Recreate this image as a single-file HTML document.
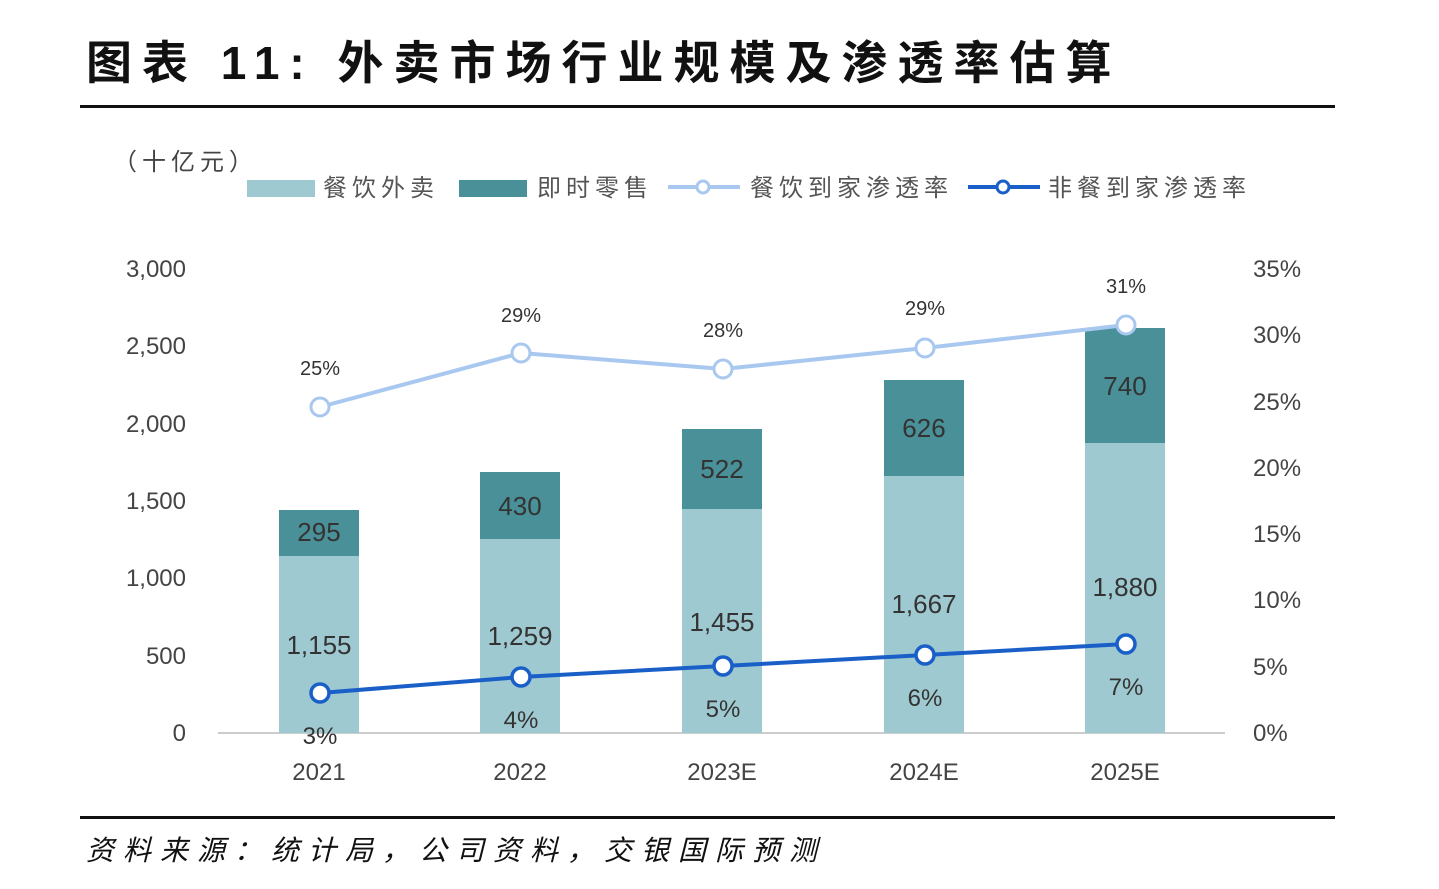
<!DOCTYPE html>
<html><head><meta charset="utf-8"><style>
html,body{margin:0;padding:0;background:#fff;}
svg{display:block;}
text{font-family:"Liberation Sans","Noto Sans CJK SC",sans-serif;}
</style></head><body>
<svg width="1439" height="889" viewBox="0 0 1439 889" xmlns="http://www.w3.org/2000/svg">
<text x="86" y="79" font-size="46" font-weight="bold" fill="#111" letter-spacing="10">图表 11: 外卖市场行业规模及渗透率估算</text>
<rect x="80" y="105" width="1255" height="3" fill="#111"/>
<rect x="80" y="816" width="1255" height="3" fill="#111"/>
<text x="86" y="860" font-size="28" font-style="italic" fill="#111" letter-spacing="9" font-family="'Noto Serif CJK SC',serif">资料来源：统计局，公司资料，交银国际预测</text>

<text x="113" y="170" font-size="24" fill="#444" letter-spacing="5">（十亿元）</text>
<rect x="247" y="180" width="68" height="17" fill="#9fc9d0"/>
<text x="323" y="196" font-size="24" fill="#555" letter-spacing="5">餐饮外卖</text>
<rect x="459" y="180" width="68" height="17" fill="#4a9099"/>
<text x="537" y="196" font-size="24" fill="#555" letter-spacing="5">即时零售</text>
<line x1="668" y1="187" x2="740" y2="187" stroke="#a9c8f0" stroke-width="4"/>
<circle cx="703" cy="187" r="6" fill="#fff" stroke="#a9c8f0" stroke-width="3"/>
<text x="750" y="196" font-size="24" fill="#555" letter-spacing="5">餐饮到家渗透率</text>
<line x1="968" y1="187" x2="1040" y2="187" stroke="#1a5fc8" stroke-width="4"/>
<circle cx="1003" cy="187" r="6" fill="#fff" stroke="#1a5fc8" stroke-width="3"/>
<text x="1048" y="196" font-size="24" fill="#555" letter-spacing="5">非餐到家渗透率</text>

<g font-size="24" fill="#444" text-anchor="end">
<text x="186" y="741">0</text>
<text x="186" y="664">500</text>
<text x="186" y="586">1,000</text>
<text x="186" y="509">1,500</text>
<text x="186" y="432">2,000</text>
<text x="186" y="354">2,500</text>
<text x="186" y="277">3,000</text>
</g>
<g font-size="24" fill="#444">
<text x="1253" y="741">0%</text>
<text x="1253" y="675">5%</text>
<text x="1253" y="608">10%</text>
<text x="1253" y="542">15%</text>
<text x="1253" y="476">20%</text>
<text x="1253" y="410">25%</text>
<text x="1253" y="343">30%</text>
<text x="1253" y="277">35%</text>
</g>

<line x1="218" y1="733" x2="1225" y2="733" stroke="#ccc" stroke-width="2"/>

<g>
<rect x="279" y="554" width="80" height="179" fill="#9fc9d0"/>
<rect x="279" y="510" width="80" height="46" fill="#4a9099"/>
<rect x="480" y="538" width="80" height="195" fill="#9fc9d0"/>
<rect x="480" y="472" width="80" height="67" fill="#4a9099"/>
<rect x="682" y="508" width="80" height="225" fill="#9fc9d0"/>
<rect x="682" y="429" width="80" height="80" fill="#4a9099"/>
<rect x="884" y="475" width="80" height="258" fill="#9fc9d0"/>
<rect x="884" y="380" width="80" height="96" fill="#4a9099"/>
<rect x="1085" y="442" width="80" height="291" fill="#9fc9d0"/>
<rect x="1085" y="328" width="80" height="115" fill="#4a9099"/>
</g>

<g font-size="26" fill="#333" text-anchor="middle">
<text x="319" y="541">295</text>
<text x="520" y="515">430</text>
<text x="722" y="478">522</text>
<text x="924" y="437">626</text>
<text x="1125" y="395">740</text>
<text x="319" y="654">1,155</text>
<text x="520" y="645">1,259</text>
<text x="722" y="631">1,455</text>
<text x="924" y="613">1,667</text>
<text x="1125" y="596">1,880</text>
</g>

<polyline points="320,407 521,353 723,369 925,348 1126,325" fill="none" stroke="#a9c8f0" stroke-width="4"/>
<g fill="#fff" stroke="#a9c8f0" stroke-width="3">
<circle cx="320" cy="407" r="9"/><circle cx="521" cy="353" r="9"/><circle cx="723" cy="369" r="9"/><circle cx="925" cy="348" r="9"/><circle cx="1126" cy="325" r="9"/>
</g>
<g font-size="20" fill="#333" text-anchor="middle">
<text x="320" y="375">25%</text>
<text x="521" y="322">29%</text>
<text x="723" y="337">28%</text>
<text x="925" y="315">29%</text>
<text x="1126" y="293">31%</text>
</g>

<polyline points="320,693 521,677 723,666 925,655 1126,644" fill="none" stroke="#1a5fc8" stroke-width="4"/>
<g fill="#fff" stroke="#1a5fc8" stroke-width="3.5">
<circle cx="320" cy="693" r="9"/><circle cx="521" cy="677" r="9"/><circle cx="723" cy="666" r="9"/><circle cx="925" cy="655" r="9"/><circle cx="1126" cy="644" r="9"/>
</g>
<g font-size="24" fill="#333" text-anchor="middle">
<text x="320" y="744">3%</text>
<text x="521" y="728">4%</text>
<text x="723" y="717">5%</text>
<text x="925" y="706">6%</text>
<text x="1126" y="695">7%</text>
</g>

<g font-size="24" fill="#444" text-anchor="middle">
<text x="319" y="780">2021</text>
<text x="520" y="780">2022</text>
<text x="722" y="780">2023E</text>
<text x="924" y="780">2024E</text>
<text x="1125" y="780">2025E</text>
</g>
</svg>
</body></html>
